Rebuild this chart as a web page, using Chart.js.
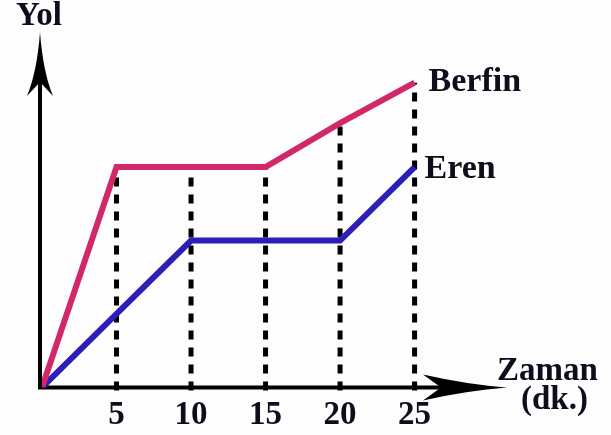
<!DOCTYPE html>
<html>
<head>
<meta charset="utf-8">
<script src="https://cdn.jsdelivr.net/npm/chart.js@4"></script>
<style>
  html, body { margin: 0; padding: 0; background: #fdfdfd; }
  #wrap { width: 611px; height: 435px; }
</style>
</head>
<body>
<div id="wrap"><canvas id="yolChart"></canvas></div>
<script>
// minutes on the x axis
const zaman = [0, 5, 10, 15, 20, 25];
const tickLabels = [5, 10, 15, 20, 25];
// distance travelled (arbitrary units)
const berfin = [0, 3, 3, 3, 3.6, 4.15];
const eren = [0, 1, 2, 2, 2, 3];

const pink = '#d1286a';
const blue = '#2b1fb8';
const ink = '#0d0d1c';
const serif = "'Liberation Serif', 'DejaVu Serif', serif";

function arrowHead(ctx, tipX, tipY, dir) {
  // dir: 'up' or 'right'; swoosh-like head
  ctx.save();
  ctx.fillStyle = '#000';
  ctx.beginPath();
  if (dir === 'up') {
    ctx.moveTo(tipX, tipY);
    ctx.quadraticCurveTo(tipX - 3, tipY + 40, tipX - 13, tipY + 64);
    ctx.lineTo(tipX, tipY + 50);
    ctx.lineTo(tipX + 13, tipY + 64);
    ctx.quadraticCurveTo(tipX + 3, tipY + 40, tipX, tipY);
  } else {
    ctx.moveTo(tipX, tipY);
    ctx.quadraticCurveTo(tipX - 40, tipY - 3, tipX - 84, tipY - 13);
    ctx.lineTo(tipX - 66, tipY);
    ctx.lineTo(tipX - 84, tipY + 13);
    ctx.quadraticCurveTo(tipX - 40, tipY + 3, tipX, tipY);
  }
  ctx.fill();
  ctx.restore();
}

const decor = {
  id: 'decor',
  beforeDatasetsDraw(chart) {
    const ctx = chart.ctx;
    const xs = chart.scales.x, ys = chart.scales.y;
    const y0 = ys.getPixelForValue(0);
    // dashed guides up to Berfin's line
    ctx.save();
    ctx.strokeStyle = '#000';
    ctx.lineWidth = 5;
    ctx.setLineDash([9, 8]);
    tickLabels.forEach(t => {
      const i = zaman.indexOf(t);
      const x = xs.getPixelForValue(t);
      ctx.beginPath();
      ctx.moveTo(x, y0 + 3);
      ctx.lineTo(x, ys.getPixelForValue(berfin[i]));
      ctx.stroke();
    });
    ctx.restore();
    // axes
    const a = chart.chartArea;
    ctx.save();
    ctx.strokeStyle = '#000';
    ctx.lineWidth = 4;
    ctx.beginPath();
    ctx.moveTo(a.left - 2, y0);
    ctx.lineTo(a.right - 30, y0);
    ctx.moveTo(a.left - 2, y0 + 2);
    ctx.lineTo(a.left - 2, a.top + 40);
    ctx.stroke();
    ctx.restore();
    arrowHead(ctx, a.right, y0, 'right');
    arrowHead(ctx, a.left - 2, a.top, 'up');
  },
  afterDatasetsDraw(chart) {
    const ctx = chart.ctx;
    const xs = chart.scales.x, ys = chart.scales.y;
    const last = zaman.length - 1;
    const xe = xs.getPixelForValue(zaman[last]);
    ctx.save();
    ctx.fillStyle = ink;
    ctx.font = 'bold 34px ' + serif;
    ctx.textBaseline = 'alphabetic';
    ctx.fillText('Berfin', xe + 14, ys.getPixelForValue(berfin[last]) + 8);
    ctx.fillText('Eren', xe + 10, ys.getPixelForValue(eren[last]) + 11);
    ctx.font = 'bold 33px ' + serif;
    ctx.fillText('Yol', 16, 25);
    ctx.fillText('Zaman', 497, 380);
    ctx.fillText('(dk.)', 521, 409);
    ctx.restore();
  }
};

new Chart(document.getElementById('yolChart'), {
  type: 'line',
  data: {
    datasets: [{
      label: 'Berfin',
      data: zaman.map((t, i) => ({ x: t, y: berfin[i] })),
      borderColor: pink,
      borderWidth: 6,
      pointRadius: 0,
      borderJoinStyle: 'miter',
      tension: 0
    }, {
      label: 'Eren',
      data: zaman.map((t, i) => ({ x: t, y: eren[i] })),
      borderColor: blue,
      borderWidth: 6,
      pointRadius: 0,
      borderJoinStyle: 'miter',
      tension: 0
    }]
  },
  options: {
    responsive: true,
    maintainAspectRatio: false,
    animation: false,
    layout: {
      padding: { left: 42, top: 32, right: 104, bottom: -8 }
    },
    plugins: {
      legend: { display: false },
      tooltip: { enabled: false }
    },
    scales: {
      x: {
        type: 'linear',
        min: 0,
        max: 31.2,
        grid: { display: false, drawTicks: false, tickLength: 0 },
        border: { display: false },
        afterBuildTicks: s => { s.ticks = tickLabels.map(v => ({ value: v })); },
        ticks: {
          autoSkip: false,
          maxRotation: 0,
          padding: 8,
          color: ink,
          font: { family: serif, size: 33, weight: 'bold' }
        }
      },
      y: {
        display: false,
        min: 0,
        max: 4.84
      }
    }
  },
  plugins: [decor]
});
</script>
</body>
</html>
